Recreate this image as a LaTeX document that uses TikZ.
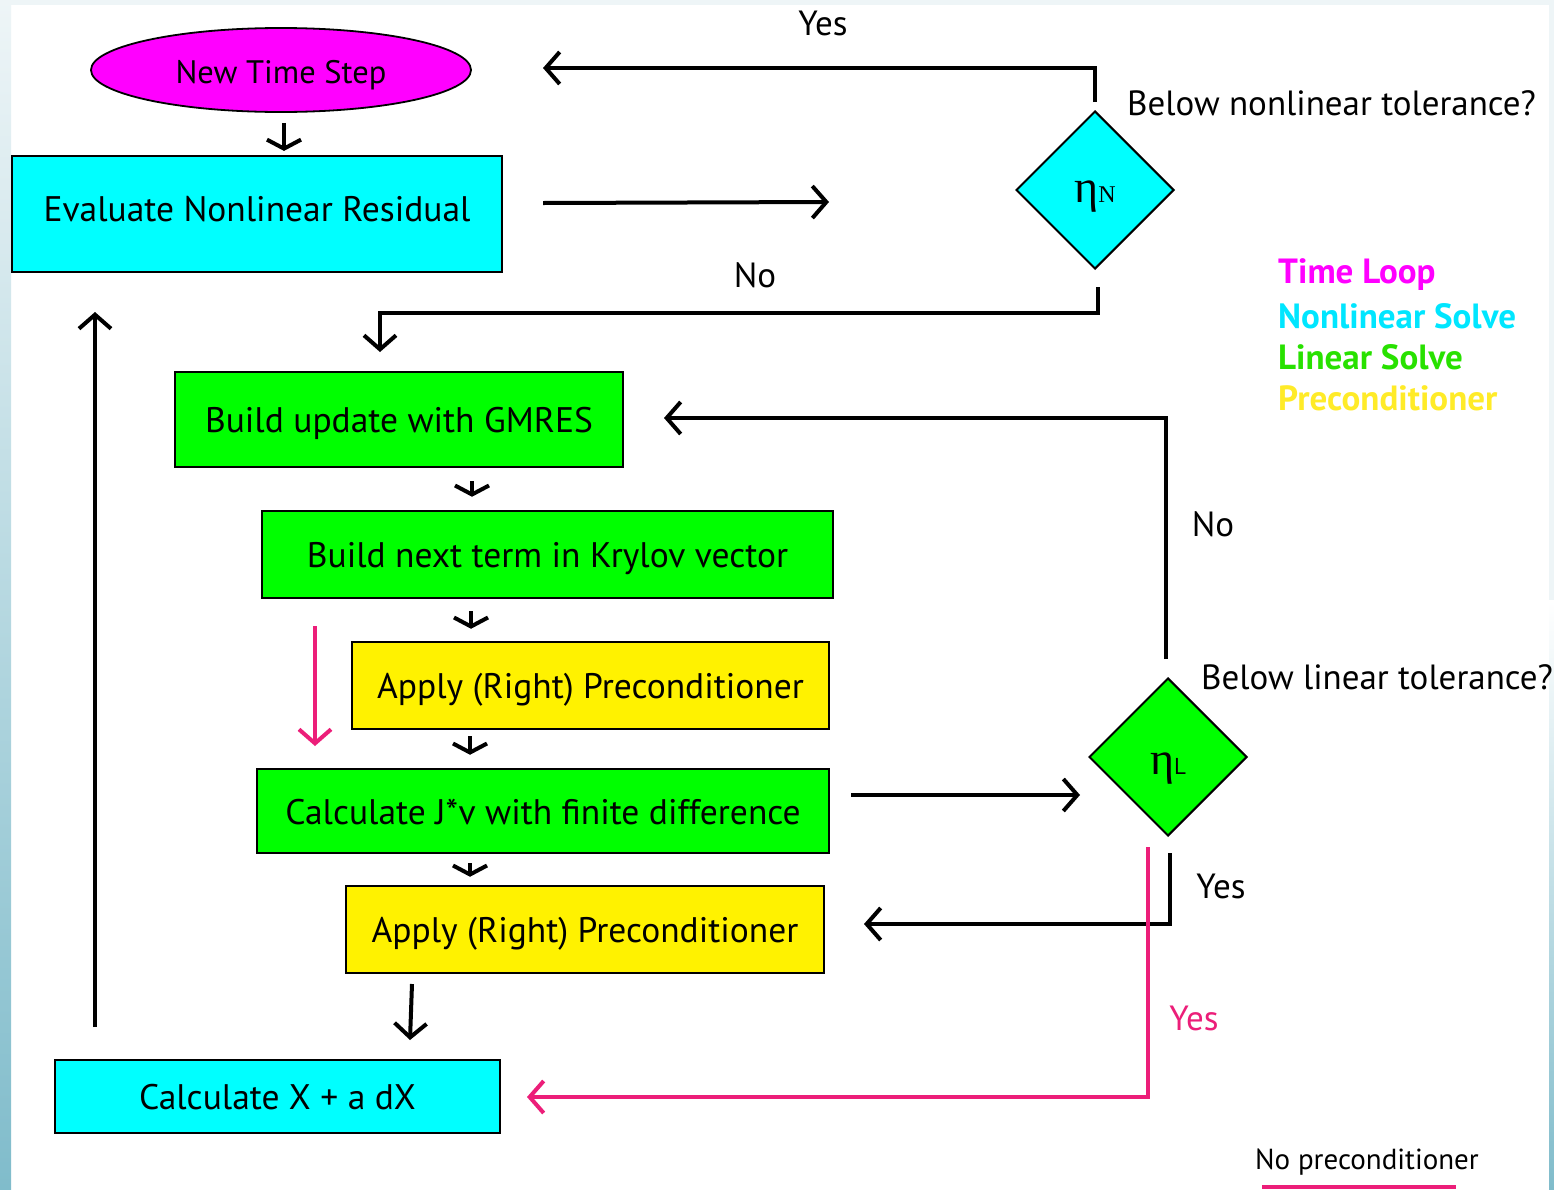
\documentclass[tikz,border=0pt]{standalone}
\usepackage{fontspec}
\setmainfont{PT Sans}
\newfontfamily\grfont{Liberation Serif}
\usetikzlibrary{arrows.meta,shapes.geometric,calc}
\definecolor{mag}{RGB}{255,0,255}
\definecolor{cyn}{RGB}{0,255,255}
\definecolor{grn}{RGB}{0,255,0}
\definecolor{ylw}{RGB}{255,242,0}
\definecolor{pnk}{RGB}{236,30,121}
\definecolor{lgcyan}{RGB}{0,230,255}
\definecolor{lggreen}{RGB}{40,225,0}
\definecolor{lgyellow}{RGB}{255,235,40}
\definecolor{edgetop}{RGB}{238,245,247}
\definecolor{edgemid}{RGB}{214,232,237}
\definecolor{edgebot}{RGB}{128,188,203}
\tikzset{
  box/.style={draw=black, line width=2.5pt, inner sep=0pt, text height=26pt, text depth=0pt,
              font=\fontsize{35.5}{40}\selectfont},
  dia/.style={diamond, draw=black, line width=2pt, aspect=1, minimum width=158pt, minimum height=158pt, inner sep=0pt, text depth=0pt},
  arr/.style={line width=4pt, -{Straight Barb[length=14pt,width=32pt,line width=4pt]}},
  sarr/.style={line width=4pt, -{Straight Barb[length=9pt,width=34pt,line width=4pt]}},
  parr/.style={line width=4pt, draw=pnk, -{Straight Barb[length=14pt,width=32pt,line width=4pt]}},
  lbl/.style={inner sep=0pt, font=\fontsize{35}{40}\selectfont},
  leg/.style={inner sep=0pt, anchor=west, font=\fontsize{35}{40}\selectfont\bfseries},
}
\begin{document}
\begin{tikzpicture}[x=1pt,y=-1pt]
% background and edges
\fill[white] (0,0) rectangle (1554,1189);
\useasboundingbox (0,0) rectangle (1554,1189);
\fill[edgetop] (0,0) rectangle (1554,5);
\shade[top color=edgetop, middle color=edgemid, bottom color=edgebot] (0,0) rectangle (11,1189);
\shade[top color=white, middle color=edgemid, bottom color=edgebot] (1549,600) rectangle (1554,1189);
\fill[edgetop] (1549,0) rectangle (1554,600);

% nodes
\node[ellipse, draw=black, line width=1.8pt, fill=mag, minimum width=380pt, minimum height=84pt, inner sep=0pt,
      text height=27pt, text depth=0pt, font=\fontsize{32.5}{38}\selectfont] (ts) at (281,70) {New Time Step};
\node[box, fill=cyn, minimum width=490pt, minimum height=116pt] (eval) at (257,214) {\raisebox{6pt}{Evaluate Nonlinear Residual}};
\node[dia, fill=cyn, text height=25pt] (etaN) at (1095,190) {{\grfont\fontsize{46}{46}\selectfont η\fontsize{24}{24}\selectfont N}};
\node[box, fill=grn, minimum width=448pt, minimum height=95pt] (gmres) at (399,419.5) {Build update with GMRES};
\node[box, fill=grn, minimum width=571pt, minimum height=87pt] (kry) at (547.5,554.5) {Build next term in Krylov vector};
\node[box, fill=ylw, minimum width=477pt, minimum height=87pt] (pc1) at (590.5,685.5) {Apply (Right) Preconditioner};
\node[box, fill=grn, minimum width=572pt, minimum height=84pt] (jv) at (543,811) {Calculate J*v with finite difference};
\node[dia, fill=grn, text height=34pt] (etaL) at (1168,757) {{\grfont\fontsize{46}{46}\selectfont η}{\fontsize{23}{23}\selectfont L}};
\node[box, fill=ylw, minimum width=478pt, minimum height=87pt] (pc2) at (585,929.5) {Apply (Right) Preconditioner};
\node[box, fill=cyn, minimum width=445pt, minimum height=73pt] (xup) at (277.5,1096.5) {Calculate X + a dX};

% labels
\node[lbl] (yesN) at (823,23) {Yes};
\node[lbl, anchor=west] (qN) at (1127,103) {Below nonlinear tolerance?};
\node[lbl] (noN) at (755,275) {No};
\node[lbl] (noL) at (1213,524) {No};
\node[lbl, anchor=west] (qL) at (1201,677) {Below linear tolerance?};
\node[lbl] (yesL) at (1221,886) {Yes};
\node[lbl, text=pnk] (yesP) at (1194,1018) {Yes};
\node[leg, text=mag] (lg1) at (1278,275) {Time Loop};
\node[leg, text=lgcyan] (lg2) at (1278,316) {Nonlinear Solve};
\node[leg, text=lggreen] (lg3) at (1278,357) {Linear Solve};
\node[leg, text=lgyellow] (lg4) at (1278,398) {Preconditioner};
\node[inner sep=0pt, anchor=west, font=\fontsize{29}{34}\selectfont] (nop) at (1255,1162) {No preconditioner};
\coordinate (nopa) at (1262,1187);
\coordinate (nopb) at (1456,1187);
\draw[pnk, line width=4pt] (nopa) -- (nopb);

% free-end coordinates
\coordinate (e1s) at (543,203);
\coordinate (e1e) at (829,202);
\coordinate (yesEnd) at (543,68);
\coordinate (gmIn) at (380,352);
\coordinate (gmBack) at (664,418);
\coordinate (jvS) at (851,795);
\coordinate (jvE) at (1080,795);
\coordinate (pc2Back) at (864,924);
\coordinate (xBack) at (527,1097);
\coordinate (pinkS) at (315,626);
\coordinate (pinkE) at (315,746);
\coordinate (pinkL) at (1148,847);
\coordinate (dS) at (412,984);
\coordinate (dE) at (410,1040);
\coordinate (upS) at (95,1027);
\coordinate (upE) at (95,312);

% connectors
\draw[sarr] ($(ts.south)+(3,10)$) -- ($(eval.north |- ts.south)+(27,38)$);
\draw[arr] (e1s) -- (e1e);
\draw[arr] ($(etaN.north)+(0,-8)$) |- (yesEnd);
\draw[arr] ($(etaN.south)+(3,17)$) -- ++(0,26) -| (gmIn);
\draw[sarr] ($(gmres.south)+(73,13)$) -- ($(kry.north)+(-75.5,-13)$);
\draw[sarr] ($(kry.south)+(-76.5,12)$) -- ($(pc1.north)+(-119.5,-12)$);
\draw[sarr] ($(pc1.south)+(-120.5,6)$) -- ($(jv.north)+(-73,-13)$);
\draw[sarr] ($(jv.south)+(-73,9)$) -- ($(pc2.north)+(-115,-8)$);
\draw[parr] (pinkS) -- (pinkE);
\draw[arr] (jvS) -- (jvE);
\draw[arr] ($(etaL.north)+(-2,-18)$) |- (gmBack);
\draw[arr] ($(etaL.south)+(2,16)$) |- (pc2Back);
\draw[parr] (pinkL) |- (xBack);
\draw[arr] (dS) -- (dE);
\draw[arr] (upS) -- (upE);
\end{tikzpicture}
\end{document}
